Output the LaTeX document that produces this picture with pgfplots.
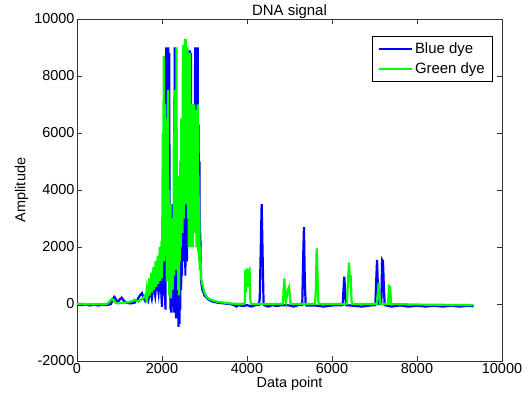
\documentclass[border=0pt]{standalone}
\usepackage{pgfplots}
\pgfplotsset{compat=1.18}
\usepackage{fontspec}
\setmainfont{Liberation Sans}
\definecolor{mblue}{rgb}{0,0,1}
\definecolor{mgreen}{rgb}{0,1,0}
\begin{document}
\begin{tikzpicture}
\begin{axis}[
  scale only axis, width=425bp, height=342bp,
  xmin=0, xmax=10000, ymin=-2000, ymax=10000,
  xtick={0,2000,...,10000}, ytick={-2000,0,...,10000},
  scaled ticks=false,
  /pgf/number format/set thousands separator={},
  /pgf/number format/assume math mode=true,
  tick align=inside, major tick length=5bp,
  axis line style={line width=0.6bp, black!80},
  tick style={line width=0.6bp, black!80},
  ticklabel style={font=\fontsize{14.5}{16}\selectfont},
  xticklabel style={yshift=1bp},
  yticklabel style={xshift=1bp},
  title={DNA signal},
  title style={font=\fontsize{15}{17}\selectfont, yshift=-9bp},
  xlabel={Data point}, ylabel={Amplitude},
  label style={font=\fontsize{14.5}{16}\selectfont},
  xlabel style={yshift=4bp},
  ylabel style={yshift=-1bp},
  legend cell align=left,
  legend style={at={(rel axis cs:0.979,0.95)}, anchor=north east,
    draw=black, line width=0.6bp, font=\fontsize{15}{17}\selectfont,
    inner xsep=6bp, inner ysep=4bp, row sep=4bp},
  legend image code/.code={\draw[#1, line width=2bp] (0bp,0bp) -- (33bp,0bp);},
  every axis plot/.append style={line width=2.2bp, line join=miter, mark=none},
]
\coordinate (bl) at (rel axis cs:0,0);
\coordinate (tr) at (rel axis cs:1,1);
\addplot[mblue] coordinates {
(0,-20) (100,-40) (200,-20) (300,-50) (400,-30) (500,-50) (600,-30) (700,-40)
(800,0) (850,200) (880,250) (920,150) (960,60) (1000,150) (1050,220) (1100,120)
(1150,50) (1250,20) (1350,40) (1420,150) (1480,300) (1530,380) (1570,200) (1600,120)
(1640,350) (1680,150) (1720,500) (1760,200) (1800,700) (1840,300) (1880,900) (1920,400)
(1960,1100) (2000,-100) (2020,1500) (2040,300) (2060,2500) (2080,-200) (2090,7000)
(2100,9000) (2110,3000) (2120,9000) (2130,8900) (2140,2000) (2150,9000) (2160,5000)
(2170,8800) (2180,1000) (2190,3500) (2200,-200) (2210,1500) (2220,-300) (2230,2000)
(2240,400) (2250,3500) (2260,-100) (2270,1800) (2280,-300) (2290,4000) (2300,9000)
(2310,500) (2320,2500) (2330,-500) (2340,1500) (2350,-400) (2360,2000) (2370,-200)
(2380,1000) (2390,-800) (2400,1200) (2410,-700) (2420,800) (2430,-200) (2440,3000)
(2450,500) (2460,4500) (2470,1000) (2480,5500) (2490,2000) (2500,5000) (2510,1500)
(2520,6000) (2530,2500) (2540,5500) (2550,1000) (2560,6500) (2570,2000) (2580,4500)
(2590,1500) (2600,5500) (2610,2500) (2620,7000) (2630,3000) (2640,8900) (2650,4000)
(2660,8900) (2670,2000) (2680,8800) (2690,3000) (2700,5500) (2710,2000) (2720,6000)
(2730,2500) (2740,5000) (2750,3000) (2760,7000) (2770,4000) (2780,9000) (2790,5000)
(2800,9000) (2810,4500) (2820,9000) (2830,6000) (2840,9000) (2850,3000) (2860,6300)
(2870,2000) (2880,5000) (2890,1500) (2900,2500) (2920,800) (2950,500) (3000,300)
(3100,150) (3200,80) (3300,50) (3400,30) (3600,0) (3700,-40) (3750,-90) (3800,-40)
(3900,-70) (4000,-40) (4100,-90) (4200,-40) (4280,-40) (4300,200) (4320,1650)
(4345,3500) (4370,1500) (4390,0) (4400,-40) (4500,-90) (4600,-40) (4700,-70)
(4800,-40) (5000,-50) (5100,-90) (5200,-40) (5300,-40) (5320,1500) (5340,2700)
(5360,800) (5380,0) (5400,-50) (5600,-50) (5800,-90) (6000,-50) (6250,-40)
(6270,500) (6290,960) (6310,400) (6330,-40) (6500,-60) (6700,-90) (6900,-50)
(7020,-40) (7040,800) (7060,1550) (7080,600) (7100,0) (7160,0) (7180,1550)
(7200,1500) (7220,600) (7240,-40) (7400,-90) (7600,-50) (7800,-90) (8000,-60)
(8200,-90) (8400,-60) (8600,-90) (8800,-60) (9000,-90) (9200,-60) (9330,-80)
};
\addlegendentry{Blue dye}
\addplot[mgreen] coordinates {
(0,0) (100,10) (200,-10) (300,0) (400,-10) (500,0) (600,-10) (700,0)
(760,80) (800,150) (830,180) (860,120) (900,50) (950,20) (1000,30) (1100,40)
(1200,60) (1300,100) (1350,150) (1400,120) (1450,80) (1500,150) (1550,200)
(1600,300) (1620,200) (1640,500) (1660,250) (1680,400) (1700,900) (1710,300)
(1730,600) (1750,1100) (1760,400) (1780,700) (1800,1300) (1810,500) (1830,900)
(1850,1500) (1860,600) (1880,1100) (1900,1700) (1910,700) (1930,1300) (1950,2000)
(1960,800) (1980,1500) (1990,2200) (2000,900) (2010,3500) (2020,6000) (2030,2000) (2040,8700)
(2050,1500) (2060,4500) (2070,7000) (2080,2000) (2090,3000) (2100,6500) (2110,800)
(2120,5000) (2130,2500) (2140,7500) (2150,1200) (2160,4000) (2170,300) (2180,2500)
(2190,600) (2200,3500) (2210,200) (2220,2000) (2230,1000) (2240,3000) (2250,500)
(2260,2500) (2270,1500) (2280,6000) (2290,1000) (2300,7500) (2310,2000) (2320,4000)
(2330,1200) (2340,9000) (2350,3000) (2360,1500) (2370,4500) (2380,500) (2390,2500)
(2400,300) (2410,3500) (2420,1500) (2430,5000) (2440,2000) (2450,6500) (2460,3000)
(2470,4500) (2480,2500) (2490,8000) (2500,9100) (2510,3000) (2520,8500) (2530,4000)
(2540,9300) (2550,5000) (2560,9300) (2570,3500) (2580,8000) (2590,6000) (2600,9000)
(2610,3000) (2620,7000) (2630,2000) (2640,8600) (2650,4000) (2660,8800) (2670,2500)
(2680,6000) (2690,2000) (2700,7000) (2710,3500) (2720,6500) (2730,2000) (2740,5500)
(2750,3000) (2760,7000) (2770,2500) (2780,6000) (2790,3500) (2800,6800) (2810,2000)
(2820,5000) (2830,2500) (2840,7000) (2850,1800) (2860,4500) (2870,1500) (2880,3000)
(2890,1200) (2900,2000) (2920,900) (2950,700) (3000,400) (3050,250) (3100,180)
(3200,120) (3300,80) (3400,60) (3500,40) (3600,20) (3700,10) (3800,0) (3900,0)
(3950,50) (3960,1200) (3980,400) (4000,1250) (4020,600) (4040,1150) (4060,1200)
(4080,100) (4100,0) (4500,0) (4850,0) (4860,500) (4880,900) (4900,300) (4920,100)
(4960,500) (4990,600) (5020,50) (5040,0) (5600,0) (5620,500) (5640,1950) (5660,1000)
(5680,50) (5700,0) (6350,0) (6370,600) (6400,1450) (6420,800) (6440,1000) (6460,100)
(6480,0) (7050,0) (7080,400) (7100,750) (7120,200) (7140,0) (7320,0) (7340,630)
(7370,600) (7390,0) (8000,-20) (9330,-40)
};
\addlegendentry{Green dye}
\end{axis}
\pgfresetboundingbox
\path (bl) ++(-77bp,-37bp) (tr) ++(20bp,19bp);
\end{tikzpicture}
\end{document}
